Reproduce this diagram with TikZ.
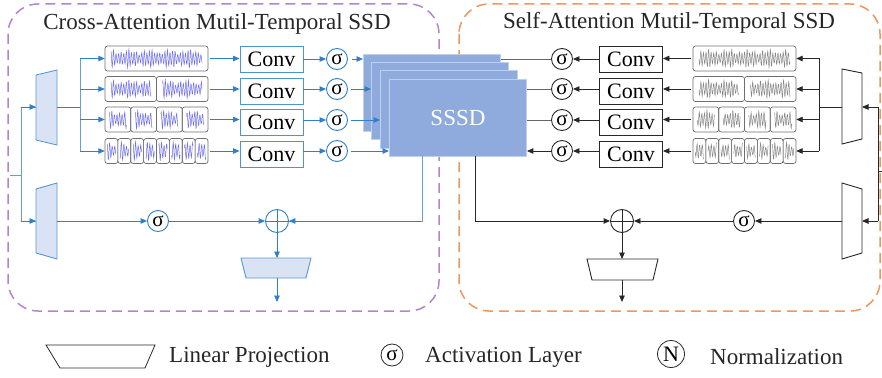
\documentclass[tikz,border=0pt]{standalone}
\usepackage{fontspec}
\setmainfont{Liberation Serif}
\usetikzlibrary{arrows.meta}

\definecolor{crossline}{RGB}{182,132,206}
\definecolor{selfline}{RGB}{238,150,92}
\definecolor{flowblue}{RGB}{46,128,204}
\definecolor{projfill}{RGB}{218,227,243}
\definecolor{stackfill}{RGB}{143,170,220}
\definecolor{stackedge}{RGB}{190,208,238}
\definecolor{flowgray}{RGB}{40,40,40}
\definecolor{wavepurple}{RGB}{112,112,240}
\definecolor{wavegray}{RGB}{135,135,135}
\definecolor{framegray}{RGB}{110,110,110}

% a signal strip cut into #4 rounded windows, a waveform in each one
% #1 left, #2 right, #3 centre y, #4 windows, #5 wave colour
\newcommand{\signalstrip}[5]{%
  \pgfmathsetmacro{\winw}{(#2-#1)/#4}
  \foreach \k in {1,...,#4}{
    \pgfmathsetmacro{\wa}{#1+(\k-1)*\winw}
    \pgfmathsetmacro{\wb}{\wa+\winw}
    \draw[framegray, line width=0.7pt, rounded corners=2.5pt] (\wa,#3-12.5) rectangle (\wb,#3+12.5);
    \pgfmathsetmacro{\pad}{min(6,0.17*\winw)}
    \pgfmathsetmacro{\pa}{\wa+\pad}
    \pgfmathsetmacro{\pb}{\wb-\pad}
    \pgfmathsetmacro{\ph}{mod(13*\wa,360)}
    \pgfmathtruncatemacro{\ns}{(\pb-\pa)*3.2}
    \draw[#5, line width=0.5pt] plot[domain=\pa:\pb, samples=\ns]
      (\x, {#3 + 9.5*(0.6+0.4*abs(sin(9*(\x-\pa)+\ph)))*(0.8+0.2*sin(47*(\x-\pa)))*sin(140*(\x-\pa)+\ph)});
  }
}

\tikzset{
  flowarrow/.style={line width=0.9pt, -{Triangle[length=6.5pt,width=5.5pt]}},
  flowline/.style={line width=0.9pt},
  convbox/.style={draw, line width=0.9pt, minimum width=63pt, minimum height=26pt, inner sep=0pt, font=\fontsize{22}{24}\selectfont},
  actnode/.style={circle, draw, line width=0.9pt, minimum size=21pt, inner sep=0pt, font=\fontsize{21}{22}\selectfont},
  sumnode/.style={circle, draw, line width=0.9pt, minimum size=23pt, inner sep=0pt,
    path picture={\draw[line width=0.9pt] (path picture bounding box.north) -- (path picture bounding box.south)
      (path picture bounding box.west) -- (path picture bounding box.east);}},
  stripspot/.style={minimum width=103pt, minimum height=25pt, inner sep=0pt},
  stackcard/.style={draw=stackedge, fill=stackfill, line width=0.9pt, minimum width=137pt, minimum height=77pt, anchor=north west, inner sep=0pt},
  frametitle/.style={font=\fontsize{23}{25}\selectfont, text=black!85},
  legendtext/.style={font=\fontsize{23}{25}\selectfont, anchor=west, inner sep=0pt, text=black!85},
}

\begin{document}
\begin{tikzpicture}[x=1pt,y=-1pt]
\useasboundingbox (0,0) rectangle (882,377);

% Two dashed frames and their titles
\draw[crossline, line width=1.5pt, dash pattern=on 10pt off 6pt, rounded corners=30pt] (8,4) rectangle (439,311);
\draw[selfline, line width=1.5pt, dash pattern=on 10pt off 6pt, rounded corners=30pt] (459,4) rectangle (880,311);
\node[frametitle] (crosstitle) at (217,24) {Cross-Attention Mutil-Temporal SSD};
\node[frametitle] (selftitle) at (669,23) {Self-Attention Mutil-Temporal SSD};

%% ---------------- cross attention branch (left) ----------------
% input projections
\filldraw[fill=projfill, draw=flowblue!80, line width=0.9pt] (36,75) -- (57,70) -- (57,145) -- (36,140) -- cycle;
\filldraw[fill=projfill, draw=flowblue!80, line width=0.9pt] (36,189) -- (57,183) -- (57,259) -- (36,253) -- cycle;
\coordinate (lin) at (10,175);
\coordinate (lsplit) at (21,175);
\coordinate (lprojA) at (36,107);
\coordinate (lprojB) at (36,221);
\coordinate (lprojAout) at (57,107);
\coordinate (lprojBout) at (57,221);
\coordinate (lfork) at (80,107);
\draw[flowblue!75, flowline] (lin) -- (lsplit);
\draw[flowblue!75, flowline] (lsplit) |- (lprojA);
\draw[flowblue!75, flowline] (lsplit) |- (lprojB);
\draw[flowblue, flowarrow] (lsplit |- lprojA) -- (lprojA);
\draw[flowblue, flowarrow] (lsplit |- lprojB) -- (lprojB);
\draw[flowblue, flowline] (lprojAout) -- (lfork);

% multi-scale signal strips
\signalstrip{105}{208}{58.5}{1}{wavepurple}
\signalstrip{105}{208}{89}{2}{wavepurple}
\signalstrip{105}{208}{119.5}{4}{wavepurple}
\signalstrip{105}{208}{151}{8}{wavepurple}
\node[stripspot] (lsig1) at (156.5,58.5) {};
\node[stripspot] (lsig2) at (156.5,89) {};
\node[stripspot] (lsig3) at (156.5,119.5) {};
\node[stripspot] (lsig4) at (156.5,151) {};

\node[convbox, draw=flowblue!85] (lconv1) at (271.5,59.5) {Conv};
\node[convbox, draw=flowblue!85] (lconv2) at (271.5,91) {Conv};
\node[convbox, draw=flowblue!85] (lconv3) at (271.5,122) {Conv};
\node[convbox, draw=flowblue!85] (lconv4) at (271.5,154) {Conv};

\node[actnode, draw=flowblue] (lact1) at (337,59) {σ};
\node[actnode, draw=flowblue] (lact2) at (337,89) {σ};
\node[actnode, draw=flowblue] (lact3) at (337,120) {σ};
\node[actnode, draw=flowblue] (lact4) at (337,151) {σ};

% fork into the strips
\draw[flowblue!75, flowline] (lfork |- lsig1) -- (lfork |- lsig4);
\draw[flowblue, flowarrow] (lfork |- lsig1) -- (lsig1.west);
\draw[flowblue, flowarrow] (lfork |- lsig2) -- (lsig2.west);
\draw[flowblue, flowarrow] (lfork |- lsig3) -- (lsig3.west);
\draw[flowblue, flowarrow] (lfork |- lsig4) -- (lsig4.west);

\draw[flowblue, flowarrow, shorten <=2pt] (lsig1.east) -- (lsig1 -| lconv1.west);
\draw[flowblue, flowarrow, shorten <=2pt] (lsig2.east) -- (lsig2 -| lconv2.west);
\draw[flowblue, flowarrow, shorten <=2pt] (lsig3.east) -- (lsig3 -| lconv3.west);
\draw[flowblue, flowarrow, shorten <=2pt] (lsig4.east) -- (lsig4 -| lconv4.west);

\draw[flowblue, flowarrow] (lact1 -| lconv1.east) -- (lact1.west);
\draw[flowblue, flowarrow] (lact2 -| lconv2.east) -- (lact2.west);
\draw[flowblue, flowarrow] (lact3 -| lconv3.east) -- (lact3.west);
\draw[flowblue, flowarrow] (lact4 -| lconv4.east) -- (lact4.west);

%% ---------------- SSSD stack ----------------
\node[stackcard] (card1) at (363,54) {};
\node[stackcard] (card2) at (371,62) {};
\node[stackcard] (card3) at (380,70.5) {};
\node[stackcard, font=\fontsize{23}{25}\selectfont, text=white] (card4) at (389,79) {SSSD};

\draw[flowblue, flowarrow, shorten <=4pt] (lact1.east) -- (lact1 -| card1.west);
\draw[flowblue, flowarrow, shorten <=3pt] (lact2.east) -- (lact2 -| card2.west);
\draw[flowblue, flowarrow, shorten <=3pt] (lact3.east) -- (lact3 -| card3.west);
\draw[flowblue, flowarrow, shorten <=3pt] (lact4.east) -- (lact4 -| card4.west);

% left fusion and output
\node[actnode, draw=flowblue] (lgate) at (158,221) {σ};
\node[sumnode, draw=flowblue] (lsum) at (277,221) {};
\coordinate (ltap) at (422,156);
\draw[flowblue, flowarrow] (lprojBout) -- (lgate.west);
\draw[flowblue, flowarrow] (lgate.east) -- (lsum.west);
\draw[flowblue!75, flowline] (ltap) |- (lsum.east);
\draw[flowblue, flowarrow] (ltap |- lsum) ++(-1,0) -- (lsum.east);
\filldraw[fill=projfill, draw=flowblue!80, line width=0.9pt] (241,258) -- (311,258) -- (306,278) -- (246,278) -- cycle;
\coordinate (lheadin) at (277,258);
\coordinate (lheadout) at (277,278);
\coordinate (lend) at (277,302);
\draw[flowblue, flowarrow] (lsum.south) -- (lheadin);
\draw[flowblue, flowarrow] (lheadout) -- (lend);

%% ---------------- self attention branch (right) ----------------
\filldraw[fill=white, draw=flowgray, line width=0.9pt] (842,69) -- (862,73) -- (862,139) -- (842,144) -- cycle;
\filldraw[fill=white, draw=flowgray, line width=0.9pt] (842,183) -- (862,189) -- (862,253) -- (842,259) -- cycle;
\coordinate (rin) at (882,171);
\coordinate (rsplit) at (878,171);
\coordinate (rprojA) at (862,107);
\coordinate (rprojB) at (862,221);
\coordinate (rprojAout) at (842,107);
\coordinate (rprojBout) at (842,221);
\coordinate (rfork) at (819,107);
\draw[flowgray, flowline] (rin) -- (rsplit);
\draw[flowgray, flowline] (rsplit |- rprojA) -- (rsplit |- rprojB);
\draw[flowgray, flowarrow] (rsplit |- rprojA) -- (rprojA);
\draw[flowgray, flowarrow] (rsplit |- rprojB) -- (rprojB);
\draw[flowgray, flowline] (rprojAout) -- (rfork);

\signalstrip{693}{796}{58.5}{1}{wavegray}
\signalstrip{693}{796}{89}{2}{wavegray}
\signalstrip{693}{796}{119.5}{4}{wavegray}
\signalstrip{693}{796}{151}{8}{wavegray}
\node[stripspot] (rsig1) at (744.5,58.5) {};
\node[stripspot] (rsig2) at (744.5,89) {};
\node[stripspot] (rsig3) at (744.5,119.5) {};
\node[stripspot] (rsig4) at (744.5,151) {};

\node[convbox, draw=flowgray] (rconv1) at (631,59.5) {Conv};
\node[convbox, draw=flowgray] (rconv2) at (631,91) {Conv};
\node[convbox, draw=flowgray] (rconv3) at (631,122) {Conv};
\node[convbox, draw=flowgray] (rconv4) at (631,154) {Conv};

\node[actnode, draw=flowgray] (ract1) at (562,59) {σ};
\node[actnode, draw=flowgray] (ract2) at (562,89) {σ};
\node[actnode, draw=flowgray] (ract3) at (562,120) {σ};
\node[actnode, draw=flowgray] (ract4) at (562,151) {σ};

\draw[flowgray, flowline] (rfork |- rsig1) -- (rfork |- rsig4);
\draw[flowgray, flowarrow] (rfork |- rsig1) -- (rsig1.east);
\draw[flowgray, flowarrow] (rfork |- rsig2) -- (rsig2.east);
\draw[flowgray, flowarrow] (rfork |- rsig3) -- (rsig3.east);
\draw[flowgray, flowarrow] (rfork |- rsig4) -- (rsig4.east);

\draw[flowgray, flowarrow, shorten <=2pt] (rsig1.west) -- (rsig1 -| rconv1.east);
\draw[flowgray, flowarrow, shorten <=2pt] (rsig2.west) -- (rsig2 -| rconv2.east);
\draw[flowgray, flowarrow, shorten <=2pt] (rsig3.west) -- (rsig3 -| rconv3.east);
\draw[flowgray, flowarrow, shorten <=2pt] (rsig4.west) -- (rsig4 -| rconv4.east);

\draw[flowgray, flowarrow] (ract1 -| rconv1.west) -- (ract1.east);
\draw[flowgray, flowarrow] (ract2 -| rconv2.west) -- (ract2.east);
\draw[flowgray, flowarrow] (ract3 -| rconv3.west) -- (ract3.east);
\draw[flowgray, flowarrow] (ract4 -| rconv4.west) -- (ract4.east);

% stack to the right activations
\draw[black!60, flowline] (ract1 -| card1.east) -- (ract1.west);
\draw[black!60, flowline] (ract2 -| card4.east) -- (ract2.west);
\draw[black!60, flowline] (ract3 -| card4.east) -- (ract3.west);
\draw[flowgray, flowarrow] (ract4.west) -- (ract4 -| card4.east);

% right fusion and output
\node[actnode, draw=flowgray] (rgate) at (744,221) {σ};
\node[sumnode, draw=flowgray] (rsum) at (622,221) {};
\coordinate (rtap) at (475,156);
\draw[flowgray, flowarrow] (rprojBout) -- (rgate.east);
\draw[flowgray, flowarrow] (rgate.west) -- (rsum.east);
\draw[flowgray, flowarrow] (rtap) |- (rsum.west);
\filldraw[fill=white, draw=flowgray, line width=0.9pt] (587,259) -- (658,259) -- (653,280) -- (592,280) -- cycle;
\coordinate (rheadin) at (622,259);
\coordinate (rheadout) at (622,280);
\coordinate (rend) at (622,302);
\draw[flowgray, flowarrow] (rsum.south) -- (rheadin);
\draw[flowgray, flowarrow] (rheadout) -- (rend);

%% ---------------- legend ----------------
\draw[flowgray, line width=0.8pt] (46,345) -- (155,345) -- (145,368) -- (60,368) -- cycle;
\node[legendtext] (projlabel) at (169,357) {Linear Projection};
\node[actnode, draw=flowgray, line width=0.8pt, minimum size=22pt] (actkey) at (392,355) {σ};
\node[legendtext] (actlabel) at (425,357) {Activation Layer};
\node[actnode, draw=flowgray, line width=0.8pt, minimum size=27pt, font=\fontsize{22}{24}\selectfont] (normkey) at (671,354) {N};
\node[legendtext] (normlabel) at (710,357) {Normalization};
\end{tikzpicture}
\end{document}
